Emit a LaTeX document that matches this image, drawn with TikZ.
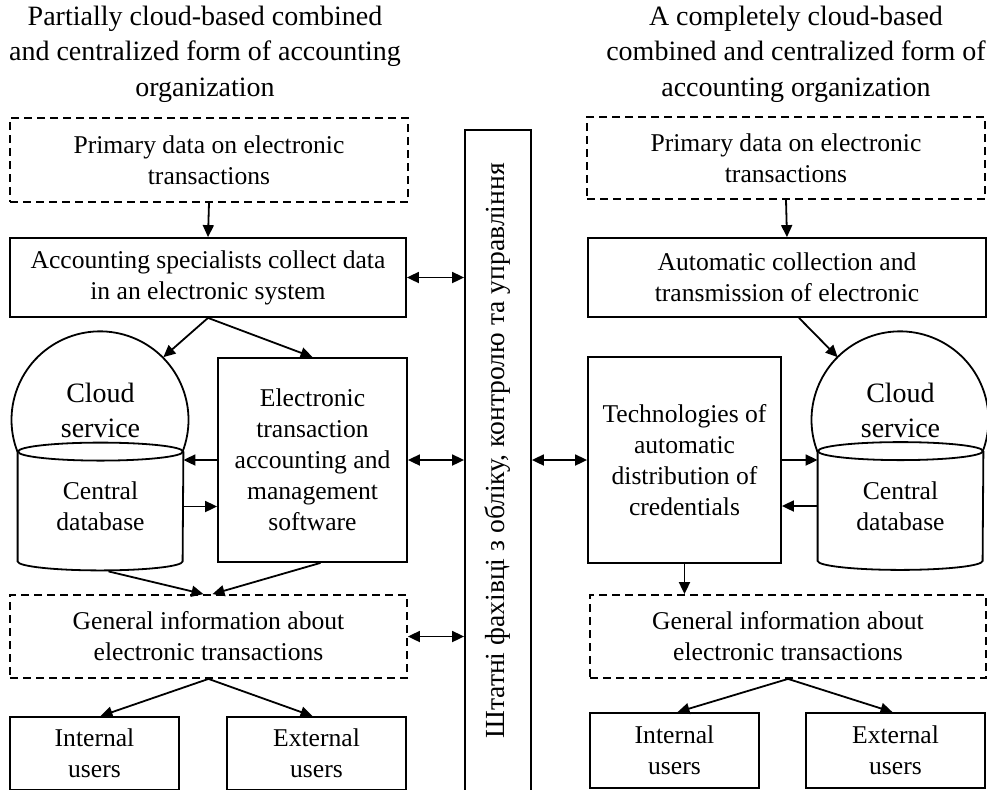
\documentclass[tikz,border=0pt]{standalone}
\usepackage{fontspec}
\setmainfont{Liberation Serif}
\usetikzlibrary{arrows.meta,positioning,calc}

\newcommand{\boxfont}{\fontsize{12.8}{15.5}\selectfont}
\newcommand{\cloudfont}{\fontsize{14}{17.5}\selectfont}
\newcommand{\titlefont}{\fontsize{14}{17.8}\selectfont}
\newcommand{\stafffont}{\fontsize{13.8}{16}\selectfont}

\tikzset{
  box/.style={draw, line width=0.9pt, align=center, inner sep=2pt, font=\boxfont},
  dbox/.style={box, dash pattern=on 4pt off 2.5pt},
  dbrect/.style={align=center, inner sep=0pt, font=\boxfont, minimum width=82.5pt, minimum height=54.5pt},
  dome/.style={circle, inner sep=0pt, minimum size=88.5pt},
  arr/.style={-{Triangle[length=6pt,width=5.5pt]}, line width=0.9pt},
  darr/.style={{Triangle[length=6pt,width=5.5pt]}-{Triangle[length=6pt,width=5.5pt]}, line width=0.9pt},
}

\begin{document}
\begin{tikzpicture}[x=0.5pt, y=-0.5pt]
  \useasboundingbox (0,0) rectangle (987,789);
  \clip (0,0) rectangle (987,789);

  % titles
  \node[font=\titlefont, align=center] (ltitle) at (205,54) {Partially cloud-based combined\\and centralized form of accounting\\organization};
  \node[font=\titlefont, align=center] (rtitle) at (796,54) {A completely cloud-based\\combined and centralized form of\\accounting organization};

  % staff column in the middle
  \node[draw, line width=0.9pt, minimum width=33pt, minimum height=335pt, inner sep=0pt] (staff) at (498,465) {};
  \node[rotate=90, font=\stafffont] (stafftxt) at ([yshift=7pt]staff.center) {Штатні фахівці з обліку, контролю та управління};

  % left side: partially cloud-based
  \node[dbox, minimum width=199pt, minimum height=42pt] (lprim) at (209,160) {Primary data on electronic\\transactions};
  \node[box, minimum width=198pt, minimum height=39.5pt] (lcoll) at (208,277.5) {Accounting specialists collect data\\in an electronic system};
  \node[box, minimum width=94.5pt, minimum height=102pt] (lsoft) at (312.5,460) {Electronic\\transaction\\accounting and\\management\\software};
  \node[dome] (ldome) at (100.5,420) {};
  \node[font=\cloudfont, align=center] (lcloud) at (100.5,410) {Cloud\\service};
  \node[dbrect] (ldb) at (100.5,506.5) {Central\\database};
  \node[dbox, minimum width=198.5pt, minimum height=41.5pt] (lgen) at (208.5,636.5) {General information about\\electronic transactions};
  \node[box, minimum width=84.5pt, minimum height=36.5pt] (lint) at (94.5,753.5) {Internal\\users};
  \node[box, minimum width=89.5pt, minimum height=36.5pt] (lext) at (316.5,753.5) {External\\users};

  % right side: completely cloud-based
  \node[dbox, minimum width=199pt, minimum height=41pt] (rprim) at (786,158) {Primary data on electronic\\transactions};
  \node[box, minimum width=199pt, minimum height=39.5pt] (rauto) at (787,277.5) {Automatic collection and\\transmission of electronic};
  \node[box, minimum width=96.5pt, minimum height=103pt] (rtech) at (684.5,460) {Technologies of\\automatic\\distribution of\\credentials};
  \node[dome] (rdome) at (900.5,420) {};
  \node[font=\cloudfont, align=center] (rcloud) at (900.5,410) {Cloud\\service};
  \node[dbrect] (rdb) at (900.5,506) {Central\\database};
  \node[dbox, minimum width=198pt, minimum height=41.5pt] (rgen) at (788,636.5) {General information about\\electronic transactions};
  \node[box, minimum width=84.5pt, minimum height=37.5pt] (rint) at (674.5,750.5) {Internal\\users};
  \node[box, minimum width=89.5pt, minimum height=37.5pt] (rext) at (895.5,750.5) {External\\users};

  % cloud databases: dome on top of a cylinder
  \foreach \d in {l,r} {
    \draw[line width=0.9pt] (\d db.north west) -- (\d db.south west)
      arc[start angle=180, end angle=360, x radius=41.25pt, y radius=4.5pt] -- (\d db.north east);
    \draw[line width=0.9pt] (\d db.north) ellipse [x radius=41.25pt, y radius=4.5pt];
    \draw[line width=0.9pt] (\d dome.201.2) arc[start angle=201.2, end angle=-21.2, radius=44.25pt];
  }

  % left arrows
  \draw[arr] (lprim.south) -- (lcoll.north);
  \draw[arr] (lcoll.south) -- (ldome.45);
  \draw[arr] (lcoll.south) -- (lsoft.north);
  \draw[arr] (lsoft.west) -- (lsoft.west -| ldb.east);
  \draw[arr] (ldb.east) -- (ldb.east -| lsoft.west);
  \draw[arr] ([xshift=4pt,yshift=-5pt]ldb.south) -- ([xshift=-2.5pt]lgen.north);
  \draw[arr] ([xshift=4pt]lsoft.south) -- ([xshift=2pt]lgen.north);
  \draw[arr] (lgen.south) -- ([xshift=3pt]lint.north);
  \draw[arr] (lgen.south) -- ([xshift=-2pt]lext.north);
  \foreach \n in {lcoll,lsoft,lgen}
    \draw[darr] (\n.east) -- (\n.east -| staff.west);

  % right arrows
  \draw[arr] (rprim.south) -- (rauto.north);
  \draw[arr] ([xshift=6pt]rauto.south) -- (rdome.135);
  \draw[arr] (rtech.east) -- (rtech.east -| rdb.west);
  \draw[arr] (rdb.west) -- (rdb.west -| rtech.east);
  \draw[arr] (rtech.south) -- (rtech.south |- rgen.north);
  \draw[arr] (rgen.south) -- ([xshift=1.5pt]rint.north);
  \draw[arr] (rgen.south) -- ([xshift=-1.5pt]rext.north);
  \draw[darr] (staff.east |- rtech.west) -- (rtech.west);
\end{tikzpicture}
\end{document}
